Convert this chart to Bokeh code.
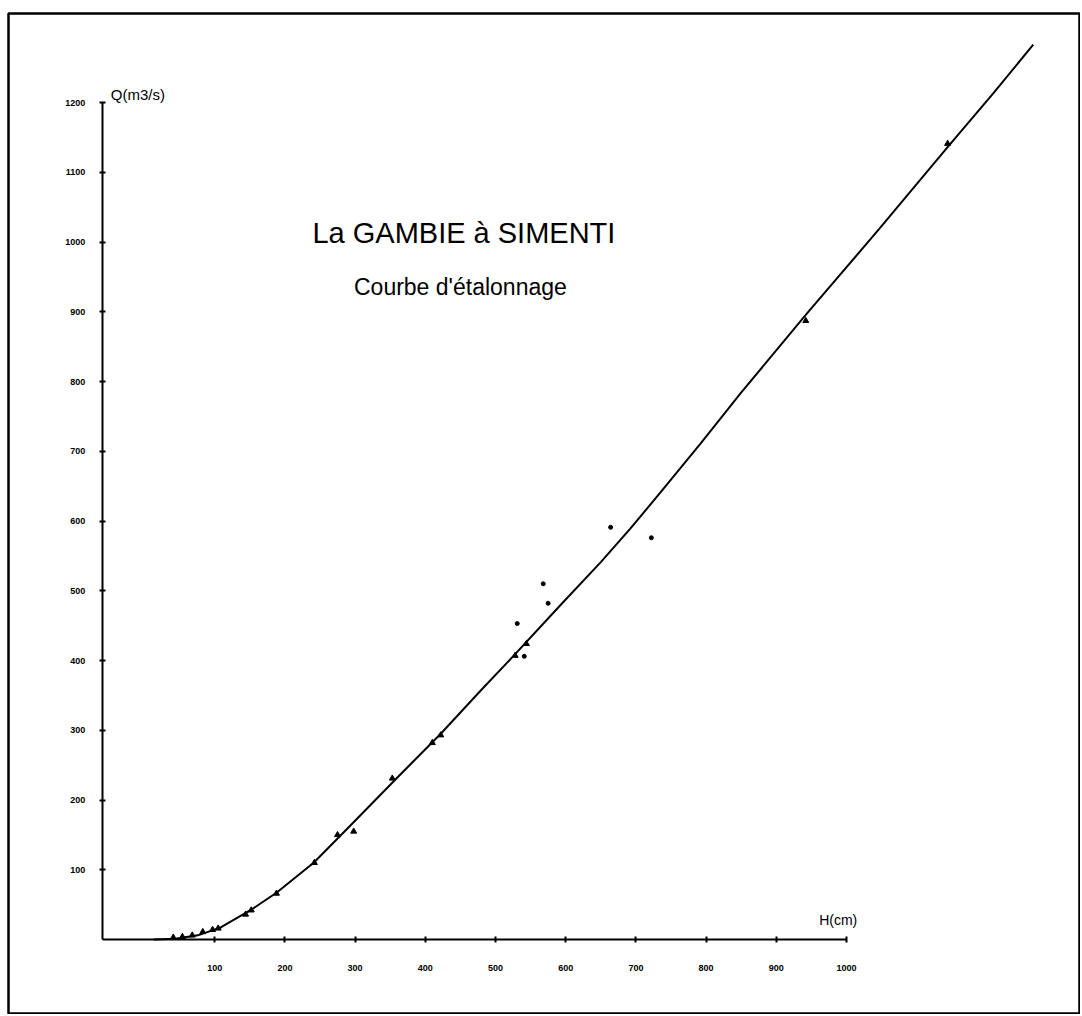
from bokeh.plotting import figure
from bokeh.models import Range1d, FixedTicker, Label, ColumnDataSource
from bokeh.embed import file_html
from bokeh.resources import INLINE

# Rating curve (courbe d'étalonnage): H (cm) -> Q (m3/s)
H_curve = [13, 44, 76, 108, 151, 188, 241, 293, 355, 422, 479, 526, 593, 650, 692,
           735, 792, 849, 944, 1046, 1144, 1209, 1266]
Q_curve = [0, 1, 6, 17, 42, 67, 110, 163, 227, 295, 357, 407, 480, 541, 589,
           641, 711, 783, 898, 1018, 1136, 1213, 1283]

# Gaugings on the curve (jaugeages)
H_gauge = [41, 54, 68, 83, 97, 105, 144, 152, 188, 242, 275, 298, 353, 410, 422,
           528, 544, 942, 1144]
Q_gauge = [3, 4, 6, 11, 14, 16, 36, 42, 66, 110, 150, 155, 231, 282, 293,
           407, 424, 887, 1141]

# Gaugings away from the curve
H_out = [531, 541, 568, 575, 664, 722]
Q_out = [453, 406, 510, 482, 591, 576]

y_ticks = [100, 200, 300, 400, 500, 600, 700, 800, 900, 1000, 1100, 1200]
x_ticks = [100, 200, 300, 400, 500, 600, 700, 800, 900, 1000]

title_text = "La GAMBIE à SIMENTI"
subtitle_text = "Courbe d'étalonnage"
y_label = "Q(m3/s)"
x_label = "H(cm)"

Y_AXIS_AT = -60

p = figure(width=1080, height=1014, output_backend="svg", toolbar_location=None,
           x_range=Range1d(-193.7, 1333.3), y_range=Range1d(-107.5, 1327.6),
           min_border_left=8, min_border_right=0, min_border_bottom=0, min_border_top=13)
p.outline_line_color = "black"
p.outline_line_width = 2.5
p.xgrid.visible = False
p.ygrid.visible = False
p.background_fill_color = "white"
p.border_fill_color = "white"

for ax in (p.xaxis[0], p.yaxis[0]):
    ax.axis_line_color = "black"
    ax.axis_line_width = 2
    ax.major_tick_line_color = "black"
    ax.major_tick_line_width = 2
    ax.major_tick_in = 3
    ax.major_tick_out = 3
    ax.minor_tick_line_color = None
    ax.major_label_text_font = "Liberation Sans"
    ax.major_label_text_font_style = "bold"
    ax.major_label_text_font_size = "9px"
    ax.major_label_text_color = "black"

p.xaxis[0].fixed_location = 0
p.xaxis[0].bounds = (Y_AXIS_AT, 1000)
p.xaxis[0].ticker = FixedTicker(ticks=x_ticks)
p.xaxis[0].major_label_standoff = 22

p.yaxis[0].fixed_location = Y_AXIS_AT
p.yaxis[0].bounds = (0, 1200)
p.yaxis[0].ticker = FixedTicker(ticks=y_ticks)
p.yaxis[0].major_label_standoff = 14

curve = ColumnDataSource(dict(h=H_curve, q=Q_curve))
p.line("h", "q", source=curve, line_color="black", line_width=2)

gauge = ColumnDataSource(dict(h=H_gauge, q=Q_gauge))
p.scatter("h", "q", source=gauge, marker="triangle", size=6, fill_color="black",
          line_color="black")
out = ColumnDataSource(dict(h=H_out, q=Q_out))
p.scatter("h", "q", source=out, marker="circle", size=4, fill_color="black",
          line_color="black")

p.add_layout(Label(x=455, y=1013, text=title_text, text_align="center",
                   text_baseline="middle", text_font="Liberation Sans",
                   text_font_size="29px", text_color="black"))
p.add_layout(Label(x=450, y=935, text=subtitle_text, text_align="center",
                   text_baseline="middle", text_font="Liberation Sans",
                   text_font_size="23px", text_color="black"))
p.add_layout(Label(x=-48, y=1224, text=y_label, text_align="left",
                   text_baseline="top", text_font="Liberation Sans",
                   text_font_size="15px", text_color="black"))
p.add_layout(Label(x=961, y=40, text=x_label, text_align="left",
                   text_baseline="top", text_font="Liberation Sans",
                   text_font_size="14px", text_color="black"))

open("out.html", "w").write(file_html(p, INLINE))
